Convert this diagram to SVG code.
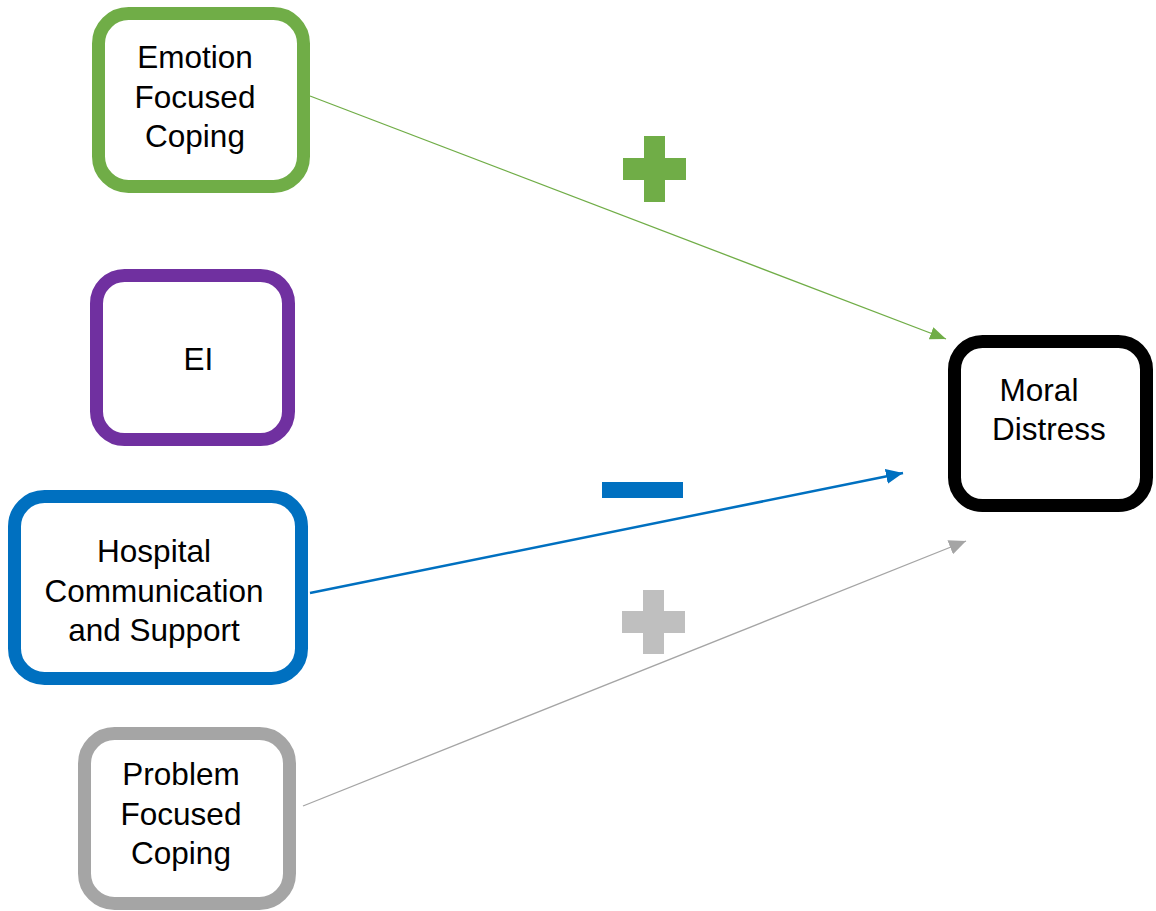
<svg xmlns="http://www.w3.org/2000/svg" width="1156" height="911" viewBox="0 0 1156 911">
<style>
.box{fill:#fff;stroke-width:13}
.t{font-family:"Liberation Sans",Arial,sans-serif;font-size:31.5px;fill:#000;text-anchor:middle}
</style>
<defs>
<marker id="ag" markerUnits="userSpaceOnUse" markerWidth="17" markerHeight="13" refX="16" refY="6.5" orient="auto"><path d="M0,0 L16,6.5 L0,13 z" fill="#70AD47"/></marker>
<marker id="ab" markerUnits="userSpaceOnUse" markerWidth="18" markerHeight="15" refX="17" refY="7.5" orient="auto"><path d="M0,0 L17,7.5 L0,15 z" fill="#0070C0"/></marker>
<marker id="ay" markerUnits="userSpaceOnUse" markerWidth="18" markerHeight="15" refX="17" refY="7.5" orient="auto"><path d="M0,0 L17,7.5 L0,15 z" fill="#A5A5A5"/></marker>
</defs>
<rect width="1156" height="911" fill="#fff"/>
<g id="connectors">
<line x1="310" y1="96" x2="946" y2="339" stroke="#70AD47" stroke-width="1.3" marker-end="url(#ag)"/>
<line x1="310" y1="593" x2="903" y2="473" stroke="#0070C0" stroke-width="2.5" marker-end="url(#ab)"/>
<line x1="303" y1="806" x2="966" y2="541" stroke="#A5A5A5" stroke-width="1.3" marker-end="url(#ay)"/>
</g>
<g id="signs">
<path d="M644,136 H665 V158 H686 V180 H665 V202 H644 V180 H623 V158 H644 Z" fill="#70AD47"/>
<rect x="602" y="482" width="81" height="16" fill="#0070C0"/>
<path d="M643,590 H664 V611 H685 V633 H664 V654 H643 V633 H622 V611 H643 Z" fill="#BFBFBF"/>
</g>
<g id="emotion">
<rect class="box" x="98.5" y="13.5" width="205" height="173" rx="30" stroke="#70AD47"/>
<text class="t" x="195" y="68">Emotion</text>
<text class="t" x="195" y="108">Focused</text>
<text class="t" x="195" y="147">Coping</text>
</g>
<g id="ei">
<rect class="box" x="96.5" y="275.5" width="192" height="164" rx="28" stroke="#7030A0"/>
<text class="t" x="198.5" y="370">EI</text>
</g>
<g id="hospital">
<rect class="box" x="14.5" y="496.5" width="287" height="182" rx="30" stroke="#0070C0"/>
<text class="t" x="154" y="562">Hospital</text>
<text class="t" x="154" y="602">Communication</text>
<text class="t" x="154" y="641">and Support</text>
</g>
<g id="problem">
<rect class="box" x="84.5" y="733.5" width="205" height="170" rx="30" stroke="#A5A5A5"/>
<text class="t" x="181" y="785">Problem</text>
<text class="t" x="181" y="825">Focused</text>
<text class="t" x="181" y="864">Coping</text>
</g>
<g id="moral">
<rect class="box" x="954.5" y="341.5" width="192" height="164" rx="28" stroke="#000"/>
<text class="t" x="1039" y="401">Moral</text>
<text class="t" x="1049" y="440">Distress</text>
</g>
</svg>
